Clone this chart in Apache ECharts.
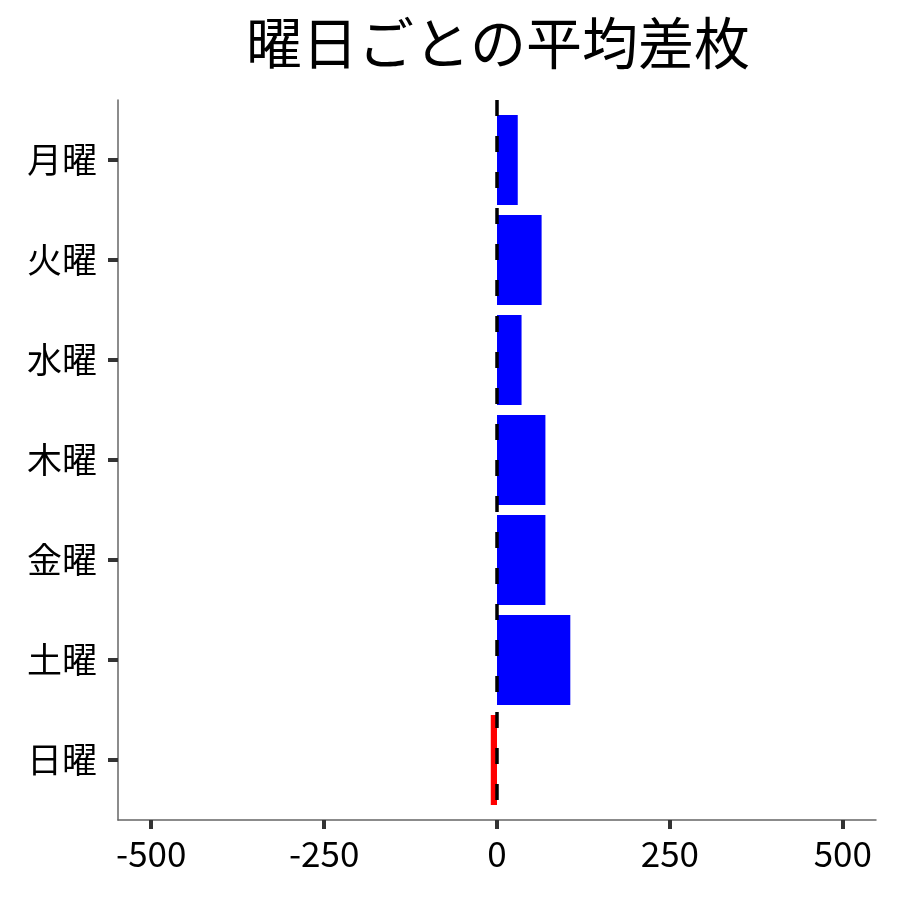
<!DOCTYPE html>
<html>
<head>
<meta charset="utf-8">
<script src="https://cdn.jsdelivr.net/npm/echarts@6/dist/echarts.min.js"></script>
<style>
html,body{margin:0;padding:0;background:#fff}
#chart{width:900px;height:900px}
</style>
</head>
<body>
<div id="chart"></div>
<script>
var days=['月曜','火曜','水曜','木曜','金曜','土曜','日曜']
var diffs=[30,64.5,35.5,70,70,106,-9]
var xTicks=[-500,-250,0,250,500]
var refValue=0

var chartDom=document.getElementById('chart')
var myChart=echarts.init(chartDom)
var font='"Noto Sans CJK JP", "Noto Sans", sans-serif'

// y軸は位置1..7の数値軸にして、上下の余白をggplot風に0.6ずつ取る
var barData=[]
for (var i=0;i<days.length;i++){
    barData.push([diffs[i],i+1])
}
var yPos=days.map(function(d,i){return i+1})

function renderBar(params,api){
    var v=api.value(0)
    var y=api.value(1)
    var start=api.coord([0,y])
    var end=api.coord([v,y])
    var h=api.size([0,0.9])[1]
    return {
        type:'rect',
        shape:{x:Math.min(start[0],end[0]),y:start[1]-h/2,width:Math.abs(end[0]-start[0]),height:h},
        style:{fill:v<0?'#FF0000':'#0000FF'}
    }
}

var option={
    backgroundColor:'#fff',
    animation:false,
    title:{
        text:'曜日ごとの平均差枚',
        left:493,
        top:10,
        textAlign:'center',
        textStyle:{fontFamily:font,fontSize:56,fontWeight:'normal',color:'#000'}
    },
    grid:{left:118,right:24,top:100,bottom:80,containLabel:false},
    xAxis:{
        type:'value',
        min:-548,
        max:548,
        splitLine:{show:false},
        axisLine:{show:true,onZero:false,lineStyle:{color:'#666',width:1.5}},
        axisTick:{show:true,customValues:xTicks,length:9,lineStyle:{color:'#333',width:4}},
        axisLabel:{customValues:xTicks,fontFamily:font,fontSize:35,color:'#000',margin:16}
    },
    yAxis:{
        type:'value',
        inverse:true,
        min:0.4,
        max:7.6,
        splitLine:{show:false},
        axisLine:{show:true,onZero:false,lineStyle:{color:'#666',width:1.5}},
        axisTick:{show:true,customValues:yPos,length:10,lineStyle:{color:'#333',width:4}},
        axisLabel:{
            customValues:yPos,
            fontFamily:font,fontSize:35,color:'#000',margin:21,
            formatter:function(v){return days[Math.round(v)-1]}
        }
    },
    series:[{
        type:'custom',
        renderItem:renderBar,
        encode:{x:0,y:1},
        data:barData,
        z:2
    },{
        type:'line',
        data:[],
        z:10,
        markLine:{
            silent:true,
            symbol:'none',
            label:{show:false},
            lineStyle:{color:'#000',type:[16,20],width:3.5},
            data:[{xAxis:refValue}]
        }
    }]
}
option && myChart.setOption(option)
</script>
</body>
</html>
